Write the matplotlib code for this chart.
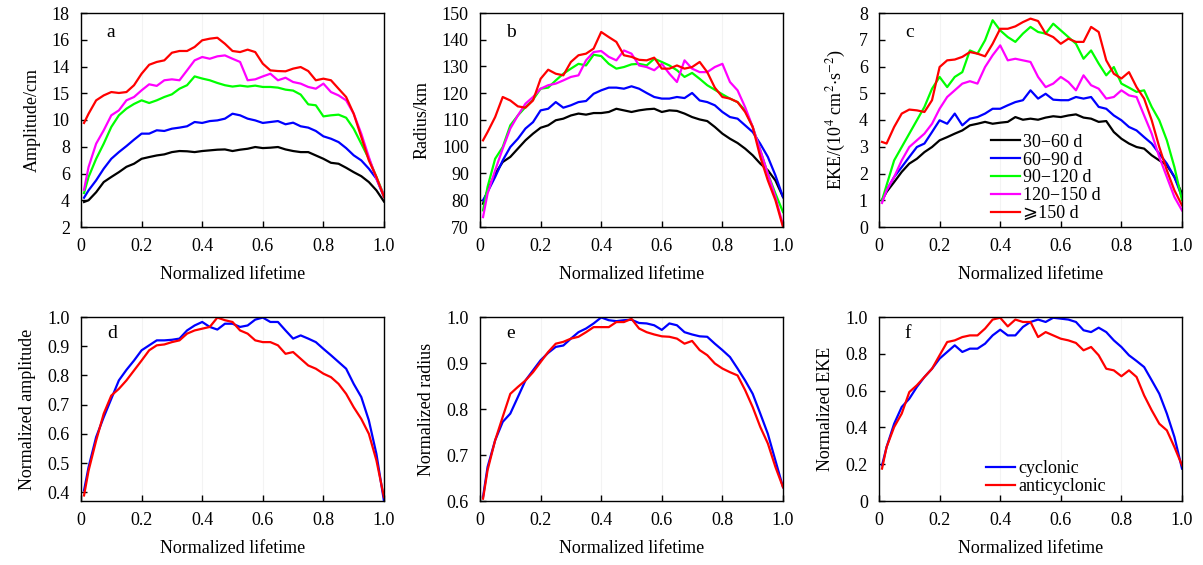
import numpy as np
import matplotlib
matplotlib.use("Agg")
import matplotlib.pyplot as plt

plt.rcParams['font.family'] = ['Liberation Serif', 'DejaVu Serif', 'DejaVu Sans']
plt.rcParams['mathtext.fontset'] = 'stix'

# shared lifetime grid
x = [0.01] + [round(0.025 * k, 3) for k in range(1, 41)]

# panel a: amplitude (cm)
amp_30_60 = [3.87, 4.0, 4.6, 5.36, 5.74, 6.1, 6.5, 6.73, 7.1, 7.23, 7.35, 7.43, 7.6, 7.68, 7.66, 7.6, 7.68, 7.73, 7.78, 7.8,
             7.68, 7.78, 7.85, 7.98, 7.9, 7.93, 7.98, 7.8, 7.68, 7.6, 7.6, 7.35, 7.1, 6.8, 6.73, 6.43, 6.1, 5.8, 5.36, 4.74, 3.9]
amp_60_90 = [4.19, 4.74, 5.49, 6.36, 7.1, 7.6, 8.05, 8.53, 8.98, 8.98, 9.23, 9.18, 9.35, 9.43, 9.53, 9.85, 9.78, 9.92, 9.97, 10.1,
             10.47, 10.35, 10.1, 9.97, 9.78, 9.85, 9.92, 9.68, 9.8, 9.53, 9.43, 9.18, 8.78, 8.6, 8.35, 7.9, 7.36, 6.98, 6.36, 5.61, 4.24]
amp_90_120 = [4.54, 5.74, 7.1, 8.23, 9.48, 10.35, 10.85, 11.2, 11.47, 11.27, 11.47, 11.72, 11.92, 12.34, 12.6, 13.26, 13.1, 12.97, 12.77, 12.6,
              12.5, 12.57, 12.5, 12.57, 12.47, 12.47, 12.42, 12.27, 12.2, 11.9, 11.17, 11.1, 10.27, 10.35, 10.4, 10.17, 9.35, 8.23, 7.1, 5.74, 4.37]
amp_120_150 = [4.79, 6.49, 8.23, 9.23, 10.35, 10.72, 11.47, 11.72, 12.22, 12.67, 12.55, 12.97, 13.04, 12.97, 13.71, 14.46, 14.71, 14.58, 14.76, 14.83,
               14.58, 14.34, 12.97, 13.04, 13.26, 13.46, 12.97, 13.16, 12.84, 12.72, 12.47, 12.34, 12.72, 12.09, 11.84, 11.47, 10.47, 8.98, 7.23, 5.61, 4.37]
amp_150 = [9.78, 10.47, 11.47, 11.84, 12.09, 12.02, 12.09, 12.6, 13.46, 14.13, 14.34, 14.46, 15.03, 15.16, 15.16, 15.46, 15.96, 16.08, 16.15, 15.7,
           15.16, 15.08, 15.26, 15.08, 14.21, 13.71, 13.66, 13.64, 13.84, 13.96, 13.66, 12.97, 13.09, 12.97, 12.34, 11.72, 10.47, 8.73, 6.98, 5.74, 4.24]

# panel b: radius (km)
rad_30_60 = [78.7, 83.7, 89.9, 94.3, 96.2, 99.3, 102.4, 104.9, 107.1, 108.0, 109.9, 110.5, 111.7, 112.4, 112.0, 112.6, 112.6, 113.0, 114.2, 113.6,
             113.0, 113.6, 114.0, 114.2, 113.0, 113.6, 113.4, 112.4, 111.1, 110.2, 109.6, 107.4, 104.9, 103.0, 101.4, 99.3, 96.8, 93.7, 91.2, 87.4, 81.2]
rad_60_90 = [80.0, 83.1, 88.7, 94.9, 99.9, 103.0, 106.8, 109.2, 113.6, 114.2, 116.7, 114.6, 115.5, 116.7, 117.1, 119.8, 121.1, 122.1, 122.1, 121.7,
             122.6, 121.7, 120.1, 118.6, 118.0, 118.0, 118.6, 118.2, 120.1, 117.3, 116.7, 115.5, 113.0, 111.1, 110.5, 108.0, 105.5, 101.1, 96.2, 89.3, 81.2]
rad_90_120 = [76.2, 85.0, 95.5, 99.9, 108.0, 111.7, 114.8, 117.6, 121.7, 122.1, 124.8, 127.3, 129.2, 131.0, 130.4, 134.4, 133.9, 131.0, 129.2, 129.8,
              130.8, 131.0, 130.4, 132.9, 131.7, 130.4, 128.6, 126.1, 127.6, 125.4, 123.0, 121.3, 119.6, 118.0, 116.7, 113.6, 107.4, 98.7, 89.9, 82.5, 75.6]
rad_120_150 = [73.7, 82.5, 91.2, 99.3, 106.8, 111.7, 116.1, 118.6, 121.7, 123.0, 123.6, 124.8, 126.1, 126.7, 132.3, 135.4, 135.8, 133.6, 132.3, 136.0,
               134.8, 130.4, 129.8, 128.6, 131.0, 127.3, 124.2, 132.3, 129.2, 127.9, 127.9, 129.8, 131.0, 124.2, 121.1, 114.8, 107.4, 98.7, 89.9, 81.2, 70.6]
rad_150 = [102.4, 105.5, 111.1, 118.6, 117.3, 115.1, 114.6, 117.3, 125.4, 128.8, 127.3, 126.7, 131.7, 134.2, 134.8, 136.7, 142.9, 141.0, 139.2, 134.2,
           133.6, 132.5, 132.3, 133.3, 129.2, 129.2, 130.4, 129.2, 129.8, 131.7, 127.9, 122.1, 118.6, 118.0, 116.7, 113.0, 107.4, 96.2, 87.4, 80.0, 70.0]

# panel c: EKE (1e4 cm2 s-2)
eke_30_60 = [1.0, 1.31, 1.68, 2.06, 2.37, 2.55, 2.8, 2.99, 3.24, 3.36, 3.49, 3.61, 3.8, 3.86, 3.93, 3.86, 3.9, 3.93, 4.11, 4.01,
             4.05, 4.01, 4.09, 4.14, 4.11, 4.17, 4.21, 4.09, 4.05, 3.93, 3.96, 3.55, 3.3, 3.12, 2.99, 2.93, 2.68, 2.49, 2.31, 1.87, 1.25]
eke_60_90 = [1.0, 1.37, 1.87, 2.24, 2.62, 2.99, 3.12, 3.55, 3.99, 3.86, 4.24, 3.8, 4.05, 4.11, 4.24, 4.42, 4.42, 4.55, 4.67, 4.74,
             5.11, 4.8, 4.98, 4.76, 4.74, 4.74, 4.86, 4.8, 4.86, 4.49, 4.42, 4.17, 3.99, 3.74, 3.61, 3.36, 3.12, 2.74, 2.37, 1.87, 1.12]
eke_90_120 = [1.0, 1.56, 2.49, 2.99, 3.49, 3.99, 4.49, 5.17, 5.61, 5.23, 5.61, 5.79, 6.6, 6.48, 6.98, 7.73, 7.35, 7.1, 6.92, 7.23,
              7.48, 7.29, 7.23, 7.6, 7.35, 7.1, 6.85, 6.29, 6.6, 6.11, 5.67, 5.98, 5.36, 5.21, 5.05, 5.11, 4.49, 3.99, 3.24, 2.24, 1.0]
eke_120_150 = [0.9, 1.37, 1.87, 2.49, 2.99, 3.24, 3.49, 3.86, 4.42, 4.86, 5.11, 5.36, 5.45, 5.36, 5.98, 6.42, 6.79, 6.23, 6.29, 6.23,
               6.17, 5.61, 5.23, 5.36, 5.61, 5.42, 5.11, 5.67, 5.3, 5.17, 4.8, 4.86, 5.11, 4.92, 4.86, 4.17, 3.49, 2.62, 1.87, 1.12, 0.62]
eke_150 = [3.18, 3.12, 3.74, 4.24, 4.39, 4.36, 4.3, 4.74, 5.98, 6.23, 6.26, 6.36, 6.54, 6.48, 6.38, 6.85, 7.41, 7.41, 7.5, 7.66,
           7.79, 7.7, 7.23, 7.1, 6.85, 7.04, 6.92, 6.92, 7.48, 7.29, 6.23, 5.73, 5.55, 5.79, 5.23, 4.8, 3.99, 2.99, 2.12, 1.37, 0.81]

# panels d-f: normalized, cyclonic vs anticyclonic
namp_cyc = [0.406, 0.486, 0.589, 0.657, 0.72, 0.783, 0.819, 0.851, 0.886, 0.903, 0.92, 0.92, 0.922, 0.926, 0.954, 0.971, 0.983, 0.966, 0.957, 0.977,
            0.977, 0.966, 0.971, 0.991, 0.998, 0.983, 0.983, 0.954, 0.926, 0.937, 0.926, 0.914, 0.891, 0.869, 0.846, 0.823, 0.771, 0.726, 0.646, 0.531, 0.369]
namp_anti = [0.389, 0.474, 0.577, 0.669, 0.731, 0.754, 0.783, 0.817, 0.851, 0.886, 0.903, 0.906, 0.914, 0.92, 0.943, 0.954, 0.96, 0.966, 0.998, 0.989,
             0.983, 0.954, 0.943, 0.92, 0.914, 0.914, 0.903, 0.874, 0.88, 0.857, 0.834, 0.823, 0.806, 0.794, 0.771, 0.737, 0.691, 0.651, 0.6, 0.509, 0.383]
nrad_cyc = [0.609, 0.674, 0.732, 0.772, 0.79, 0.826, 0.862, 0.884, 0.906, 0.922, 0.935, 0.938, 0.953, 0.967, 0.975, 0.986, 0.999, 0.993, 0.991, 0.993,
            0.994, 0.987, 0.986, 0.982, 0.972, 0.986, 0.982, 0.967, 0.962, 0.958, 0.957, 0.942, 0.928, 0.913, 0.888, 0.862, 0.833, 0.79, 0.746, 0.688, 0.63]
nrad_anti = [0.605, 0.667, 0.732, 0.783, 0.833, 0.848, 0.862, 0.88, 0.902, 0.924, 0.942, 0.946, 0.953, 0.957, 0.967, 0.978, 0.978, 0.978, 0.989, 0.989,
             0.996, 0.975, 0.967, 0.962, 0.958, 0.957, 0.953, 0.942, 0.948, 0.928, 0.917, 0.899, 0.888, 0.88, 0.873, 0.841, 0.804, 0.761, 0.725, 0.674, 0.63]
neke_cyc = [0.194, 0.293, 0.42, 0.511, 0.556, 0.62, 0.674, 0.719, 0.774, 0.81, 0.846, 0.81, 0.828, 0.828, 0.855, 0.9, 0.931, 0.9, 0.9, 0.946,
            0.973, 0.986, 0.973, 0.996, 0.991, 0.986, 0.973, 0.928, 0.918, 0.942, 0.918, 0.873, 0.837, 0.792, 0.761, 0.728, 0.656, 0.583, 0.475, 0.348, 0.176]
neke_anti = [0.176, 0.293, 0.402, 0.475, 0.592, 0.629, 0.674, 0.719, 0.792, 0.864, 0.873, 0.891, 0.9, 0.9, 0.937, 0.986, 0.996, 0.949, 0.986, 0.973,
             0.973, 0.891, 0.918, 0.9, 0.882, 0.873, 0.859, 0.819, 0.837, 0.792, 0.719, 0.71, 0.678, 0.71, 0.674, 0.574, 0.493, 0.42, 0.384, 0.293, 0.194]

group_labels = ["30\u221260 d", "60\u221290 d", "90\u2212120 d", "120\u2212150 d", "\u2a7e150 d"]
group_colors = ["#000000", "#0000ff", "#00ff00", "#ff00ff", "#ff0000"]
xtick_vals = [0, 0.2, 0.4, 0.6, 0.8, 1.0]
xtick_labels = ["0", "0.2", "0.4", "0.6", "0.8", "1.0"]

fig = plt.figure(figsize=(12.03, 5.65), dpi=100)
W, H = 1203, 565
ax_w = 303
lefts = [81, 480, 879]


def make_ax(left, top, bottom):
    return fig.add_axes([left / W, 1 - bottom / H, ax_w / W, (bottom - top) / H])


def style(ax, letter, ylabel):
    ax.set_xlim(0, 1.0)
    ax.set_xticks(xtick_vals)
    ax.set_xticklabels(xtick_labels)
    ax.tick_params(direction='in', length=4, width=1, labelsize=13, pad=8)
    ax.grid(axis='x', color='#f3f3f3', linewidth=0.8)
    ax.set_axisbelow(True)
    for sp in ax.spines.values():
        sp.set_linewidth(1.0)
    ax.set_xlabel("Normalized lifetime", fontsize=13, labelpad=8)
    ax.set_ylabel(ylabel, fontsize=13, labelpad=8)
    ax.text(0.085, 0.91, letter, transform=ax.transAxes, fontsize=14, va='center')


lw = 1.6
leg_kw = dict(loc='upper left', frameon=False, fontsize=13, handlelength=1.6,
              handletextpad=0.2, labelspacing=0.05, borderaxespad=0)
top_axes = [make_ax(l, 13, 227) for l in lefts]
bot_axes = [make_ax(l, 317, 501) for l in lefts]

# a
ax = top_axes[0]
for y, c in zip([amp_30_60, amp_60_90, amp_90_120, amp_120_150, amp_150], group_colors):
    ax.plot(x, y, color=c, lw=lw)
ax.set_ylim(2, 18)
ax.set_yticks([2, 4, 6, 8, 10, 12, 14, 16, 18])
ax.set_yticklabels(["2", "4", "6", "8", "10", "15", "14", "16", "18"])
style(ax, "a", "Amplitude/cm")

# b
ax = top_axes[1]
for y, c in zip([rad_30_60, rad_60_90, rad_90_120, rad_120_150, rad_150], group_colors):
    ax.plot(x, y, color=c, lw=lw)
ax.set_ylim(70, 150)
ax.set_yticks(range(70, 151, 10))
style(ax, "b", "Radius/km")

# c
ax = top_axes[2]
for y, c, lab in zip([eke_30_60, eke_60_90, eke_90_120, eke_120_150, eke_150], group_colors, group_labels):
    ax.plot(x, y, color=c, lw=lw, label=lab)
ax.set_ylim(0, 8)
ax.set_yticks(range(0, 9))
style(ax, "c", "EKE/(10$^4$ cm$^2$$\\cdot$s$^{-2}$)")
ax.legend(bbox_to_anchor=(0.345, 0.47), **leg_kw)

# d
ax = bot_axes[0]
ax.plot(x, namp_cyc, color="#0000ff", lw=lw)
ax.plot(x, namp_anti, color="#ff0000", lw=lw)
ax.set_ylim(0.37, 1.0)
ax.set_yticks([0.4, 0.5, 0.6, 0.7, 0.8, 0.9, 1.0])
ax.set_yticklabels(["0.4", "0.5", "0.6", "0.7", "0.8", "0.9", "1.0"])
style(ax, "d", "Normalized amplitude")

# e
ax = bot_axes[1]
ax.plot(x, nrad_cyc, color="#0000ff", lw=lw)
ax.plot(x, nrad_anti, color="#ff0000", lw=lw)
ax.set_ylim(0.6, 1.0)
ax.set_yticks([0.6, 0.7, 0.8, 0.9, 1.0])
ax.set_yticklabels(["0.6", "0.7", "0.8", "0.9", "1.0"])
style(ax, "e", "Normalized radius")

# f
ax = bot_axes[2]
ax.plot(x, neke_cyc, color="#0000ff", lw=lw, label="cyclonic")
ax.plot(x, neke_anti, color="#ff0000", lw=lw, label="anticyclonic")
ax.set_ylim(0, 1.0)
ax.set_yticks([0, 0.2, 0.4, 0.6, 0.8, 1.0])
ax.set_yticklabels(["0", "0.2", "0.4", "0.6", "0.8", "1.0"])
style(ax, "f", "Normalized EKE")
ax.legend(bbox_to_anchor=(0.33, 0.26), **leg_kw)

fig.savefig("out.png", dpi=100)
